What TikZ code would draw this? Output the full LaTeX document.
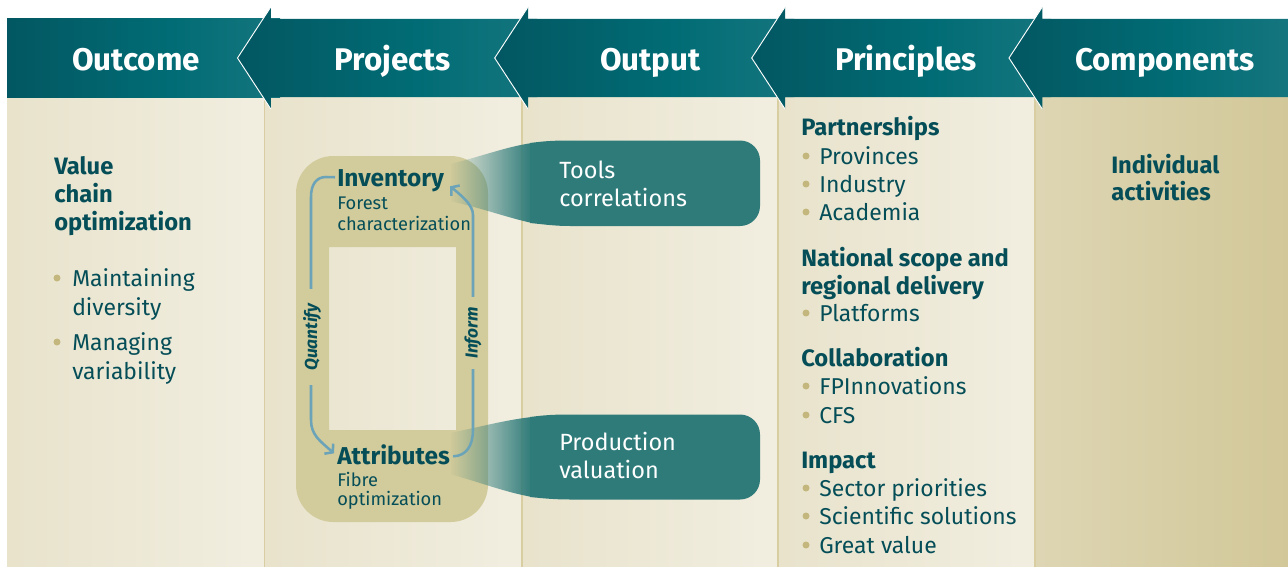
\documentclass[tikz,border=0pt]{standalone}
\usepackage{fontspec}
\setmainfont{Fira Sans}
\usetikzlibrary{arrows.meta,fadings}

\definecolor{txt}{HTML}{054E58}
\definecolor{hdark}{HTML}{03505B}
\definecolor{hmid}{HTML}{016C75}
\definecolor{hlight}{HTML}{2E8189}
\definecolor{pl}{HTML}{E4DDC1}
\definecolor{pr}{HTML}{F6F4EB}
\definecolor{cr}{HTML}{CBC08B}
\definecolor{sepc}{HTML}{D8CEA2}
\definecolor{bulc}{HTML}{C4B77E}
\definecolor{ringc}{HTML}{D2CB9B}
\definecolor{callc}{HTML}{2E7B7A}
\definecolor{arrblue}{HTML}{6BA3B9}

\pgfdeclarehorizontalshading{panelsh}{100bp}{color(0bp)=(pl); color(100bp)=(pr)}
\pgfdeclarehorizontalshading{compsh}{100bp}{color(0bp)=(pl); color(100bp)=(cr)}
\pgfdeclarehorizontalshading{headsh}{100bp}{color(0bp)=(hdark); color(15bp)=(hdark); color(55bp)=(hmid); color(100bp)=(hlight)}
\tikzfading[name=fadein, left color=transparent!100, right color=transparent!0]

\newcommand\bitem[5]{%
  \fill[bulc] (#1,#3-8) circle (3.5);
  \node[btxt] (#4) at (#2,#3) {#5};}

\begin{document}
\begin{tikzpicture}[x=0.75pt, y=-0.75pt,
  hdtxt/.style={anchor=base, text=white, inner sep=0, font=\fontsize{23.5}{28}\selectfont\bfseries},
  bhead/.style={anchor=base west, text=txt, inner sep=0, font=\fontsize{17.8}{21}\selectfont\bfseries},
  btxt/.style={anchor=base west, text=txt, inner sep=0, font=\fontsize{17.2}{21}\selectfont},
  ltitle/.style={anchor=base west, text=txt, inner sep=0, font=\fontsize{18.3}{21}\selectfont\bfseries},
  lsub/.style={anchor=base west, text=txt, inner sep=0, font=\fontsize{13.7}{16}\selectfont},
  ctxt/.style={anchor=base west, text=white, inner sep=0, font=\fontsize{17.6}{21}\selectfont},
  lbl/.style={fill=ringc, text=txt, inner ysep=1pt, font=\fontsize{13}{15}\selectfont\bfseries\itshape},
  looparr/.style={draw=arrblue, line width=1.9pt, -{Straight Barb[length=4pt,width=10pt]}},
  hdr/.style={shading=headsh}]
\useasboundingbox (0,0) rectangle (1288,567);
\fill[white] (0,0) rectangle (1288,567);

% panels
\foreach \a/\b in {7/264.5, 264.5/521.7, 521.7/778, 778/1035}
  {\shade[shading=panelsh] (\a,97) rectangle (\b,567);}
\shade[shading=compsh] (1035,97) rectangle (1288,567);
\foreach \a in {264.5, 521.7, 778, 1035}
  {\draw[sepc, line width=1.2pt] (\a,97) -- (\a,567);}

% header arrows
\shade[hdr] (7,19) rectangle (280,97);
\foreach \t/\e in {237.5/537, 494.7/794, 751.7/1051, 1009/1288}{
  \shade[hdr] (\t,58) -- (\t+33.3,7) -- (\t+33.3,19) -- (\e,19) -- (\e,97)
     -- (\t+33.3,97) -- (\t+33.3,109) -- cycle;
  \draw[white, line width=0.7pt] (\t+33.3,7) -- (\t,58) -- (\t+33.3,109);
}
\node[hdtxt] (hOutcome) at (136,70) {Outcome};
\node[hdtxt] (hProjects) at (392.5,70) {Projects};
\node[hdtxt] (hOutput) at (650.5,70) {Output};
\node[hdtxt] (hPrinciples) at (906,70) {Principles};
\node[hdtxt] (hComponents) at (1165,70) {Components};

% Outcome column
\node[bhead] (o1) at (54,174) {Value};
\node[bhead] (o2) at (54,202) {chain};
\node[bhead] (o3) at (54,230) {optimization};
\bitem{57}{72}{286}{o4}{Maintaining}
\node[btxt] (o5) at (72,315) {diversity};
\bitem{57}{72}{350}{o6}{Managing}
\node[btxt] (o7) at (72,379) {variability};

% loop ring
\fill[ringc, even odd rule] [rounded corners=28pt] (296,156) rectangle (488,522)
   [sharp corners] (329,247) rectangle (456,430);

% callouts
\fill[callc, path fading=fadein] (450,164) .. controls (480,157) and (505,147) .. (532,143)
   -- (532,223) .. controls (505,217) and (485,209) .. (450,201) -- cycle;
\fill[callc] (530,143) .. controls (545,141) and (555,140.5) .. (570,140.5) -- (740,140.5)
   arc[start angle=-90, end angle=0, radius=20] -- (760,206)
   arc[start angle=0, end angle=90, radius=20] -- (570,226)
   .. controls (555,226) and (545,224.5) .. (530,223) -- cycle;
\fill[callc, path fading=fadein] (450,433) .. controls (480,427) and (505,420) .. (532,417)
   -- (532,497) .. controls (505,492) and (485,484) .. (450,474) -- cycle;
\fill[callc] (530,417) .. controls (545,415) and (555,414.5) .. (570,414.5) -- (740,414.5)
   arc[start angle=-90, end angle=0, radius=20] -- (760,479.5)
   arc[start angle=0, end angle=90, radius=20] -- (570,499.5)
   .. controls (555,499.5) and (545,498.5) .. (530,497) -- cycle;
\node[ctxt] (c1) at (559,178) {Tools};
\node[ctxt] (c2) at (559,206) {correlations};
\node[ctxt] (c3) at (559,450) {Production};
\node[ctxt] (c4) at (559,478) {valuation};

% loop texts
\node[ltitle] (inv) at (337,186) {Inventory};
\node[lsub] (inv2) at (337,209) {Forest};
\node[lsub] (inv3) at (337,230) {characterization};
\node[ltitle] (att) at (337,464) {Attributes};
\node[lsub] (att2) at (337,486) {Fibre};
\node[lsub] (att3) at (337,505) {optimization};

% loop arrows
\draw[looparr] ([shift={(-2,-3)}]inv.west) -- (326,177)
   .. controls (316,177) and (311,185) .. (311,197) -- (311,420)
   .. controls (311,435) and (320,441) .. ([shift={(-3,-1)}]att.west);
\draw[looparr] ([shift={(3,2)}]att.east) .. controls (466,456) and (473,446) .. (473,430)
   -- (473,215) .. controls (473,205) and (462,196) .. ([shift={(6,6)}]inv.east);
\node[lbl, rotate=90, inner xsep=11pt] (quant) at (312,337) {Quantify};
\node[lbl, rotate=90, inner xsep=7.5pt] (inform) at (473,333) {Inform};

% Principles column
\node[bhead] (p1) at (801,135) {Partnerships};
\bitem{806}{819}{164}{p2}{Provinces}
\bitem{806}{819}{192}{p3}{Industry}
\bitem{806}{819}{220}{p4}{Academia}
\node[bhead] (p5) at (801,266) {National scope and};
\node[bhead] (p6) at (801,294) {regional delivery};
\bitem{806}{819}{321}{p7}{Platforms}
\node[bhead] (p8) at (801,366) {Collaboration};
\bitem{806}{819}{394}{p9}{FPInnovations}
\bitem{806}{819}{423}{p10}{CFS}
\node[bhead] (p11) at (801,468) {Impact};
\bitem{806}{819}{496}{p12}{Sector priorities}
\bitem{806}{819}{524}{p13}{Scientific solutions}
\bitem{806}{819}{553}{p14}{Great value}

% Components column
\node[bhead] (k1) at (1111,173) {Individual};
\node[bhead] (k2) at (1111,200) {activities};
\end{tikzpicture}
\end{document}
